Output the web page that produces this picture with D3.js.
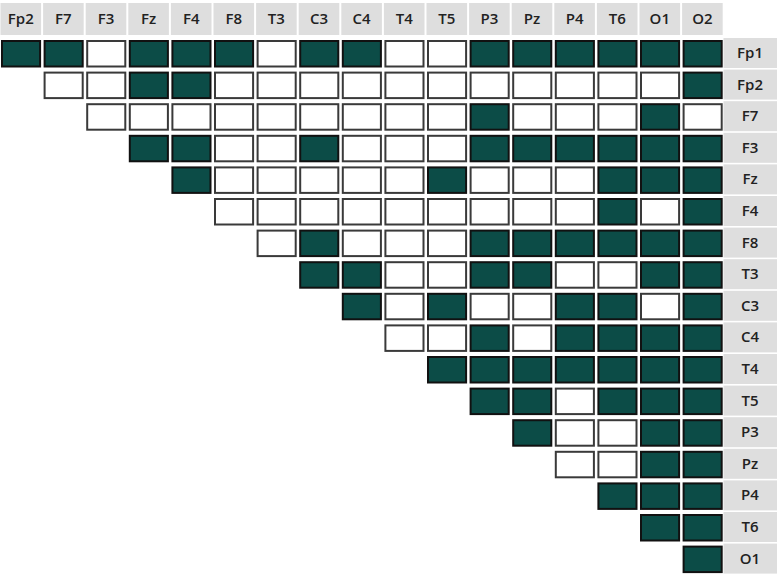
<!DOCTYPE html>
<html>
<head>
<meta charset="utf-8">
<script src="https://cdn.jsdelivr.net/npm/d3@7"></script>
<style>
  body { margin: 0; background: #fff; }
  text { font-family: "Open Sans", "Noto Sans", sans-serif; font-weight: 600; fill: #222; }
</style>
</head>
<body>
<script>
var cols = ['Fp2', 'F7', 'F3', 'Fz', 'F4', 'F8', 'T3', 'C3', 'C4', 'T4', 'T5', 'P3', 'Pz', 'P4', 'T6', 'O1', 'O2'];
var rows = ['Fp1', 'Fp2', 'F7', 'F3', 'Fz', 'F4', 'F8', 'T3', 'C3', 'C4', 'T4', 'T5', 'P3', 'Pz', 'P4', 'T6', 'O1'];

// row i starts at column i (upper triangle), 1 = filled
var values = [
    [1, 1, 0, 1, 1, 1, 0, 1, 1, 0, 0, 1, 1, 1, 1, 1, 1],
    [0, 0, 1, 1, 0, 0, 0, 0, 0, 0, 0, 0, 0, 0, 0, 1],
    [0, 0, 0, 0, 0, 0, 0, 0, 0, 1, 0, 0, 0, 1, 0],
    [1, 1, 0, 0, 1, 0, 0, 0, 1, 1, 1, 1, 1, 1],
    [1, 0, 0, 0, 0, 0, 1, 0, 0, 0, 1, 1, 1],
    [0, 0, 0, 0, 0, 0, 0, 0, 0, 1, 0, 1],
    [0, 1, 0, 0, 0, 1, 1, 1, 1, 1, 1],
    [1, 1, 0, 0, 1, 1, 0, 0, 1, 1],
    [1, 0, 1, 0, 0, 1, 1, 0, 1],
    [0, 0, 1, 0, 1, 1, 1, 1],
    [1, 1, 1, 1, 1, 1, 1],
    [1, 1, 0, 1, 1, 1],
    [1, 0, 0, 1, 1],
    [0, 0, 1, 1],
    [1, 1, 1],
    [1, 1],
    [1]
];

var width = 781, height = 581;
var fillOn = '#0c4c47', grey = '#dedede';

var svg = d3.select('body')
    .append('svg')
    .attr('width', width)
    .attr('height', height);

var x = d3.scaleBand()
    .domain(cols)
    .range([1, 1 + 17 * 42.6]);

var y = d3.scaleBand()
    .domain(rows)
    .range([40, 40 + 17 * 31.6]);

var cells = [];
values.forEach(function (r, i) {
    r.forEach(function (v, j) {
        cells.push({ row: rows[i], col: cols[i + j], value: v });
    });
});

// column headers
var head = svg.append('g').attr('class', 'col-head')
    .selectAll('g')
    .data(cols)
    .enter()
    .append('g');

head.append('rect')
    .attr('x', function (d) { return x(d) - 0.5; })
    .attr('y', 3)
    .attr('width', x.bandwidth() - 2)
    .attr('height', 32)
    .attr('fill', grey);

head.append('text')
    .attr('x', function (d) { return x(d) - 0.5 + (x.bandwidth() - 2) / 2; })
    .attr('y', 20)
    .attr('text-anchor', 'middle')
    .attr('dominant-baseline', 'middle')
    .attr('font-size', 15)
    .text(function (d) { return d; });

// row labels
var rlab = svg.append('g').attr('class', 'row-head')
    .selectAll('g')
    .data(rows)
    .enter()
    .append('g');

rlab.append('rect')
    .attr('x', 723.5)
    .attr('y', function (d) { return y(d) - 2; })
    .attr('width', 53.5)
    .attr('height', y.bandwidth() - 1.6)
    .attr('fill', grey);

rlab.append('text')
    .attr('x', 750)
    .attr('y', function (d) { return y(d) - 2 + (y.bandwidth() - 1.6) / 2 + 1; })
    .attr('text-anchor', 'middle')
    .attr('dominant-baseline', 'middle')
    .attr('font-size', 15)
    .text(function (d) { return d; });

// matrix cells
svg.append('g').attr('class', 'cells')
    .selectAll('rect')
    .data(cells)
    .enter()
    .append('rect')
    .attr('x', function (d) { return x(d.col) + 1; })
    .attr('y', function (d) { return y(d.row) + 1; })
    .attr('width', x.bandwidth() - 4.5)
    .attr('height', 25.5)
    .attr('fill', function (d) { return d.value ? fillOn : '#fff'; })
    .attr('stroke', function (d) { return d.value ? '#111' : '#3a3a3a'; })
    .attr('stroke-width', 2);
</script>
</body>
</html>
